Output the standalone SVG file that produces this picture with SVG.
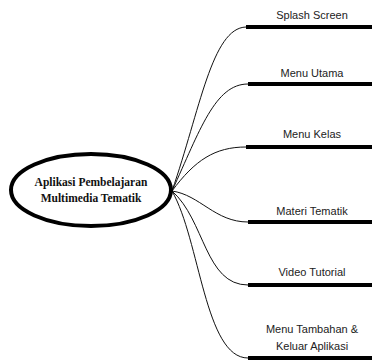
<svg xmlns="http://www.w3.org/2000/svg" width="372" height="364" viewBox="0 0 372 364">
<style>
.bar{stroke:#000;stroke-width:4;fill:none}
.lbl{font-family:"Liberation Sans",Arial,sans-serif;font-size:11px;fill:#222;text-anchor:middle}
.ctr{font-family:"Liberation Serif","Times New Roman",serif;font-size:11.5px;font-weight:bold;fill:#111;text-anchor:middle}
.conn{stroke:#111;stroke-width:1;fill:none}
</style>
<rect width="372" height="364" fill="#fff"/>
<g id="connectors">
<path class="conn" d="M172,191 C200,110 212,28 246,27"/>
<path class="conn" d="M172,191 C200,130 215,84 248,84"/>
<path class="conn" d="M172,191 C195,160 215,147 246,147"/>
<path class="conn" d="M172,191 C200,195 215,222 248,222"/>
<path class="conn" d="M172,191 C205,220 205,285 248,285"/>
<path class="conn" d="M172,191 C200,240 205,358 248,358"/>
</g>
<g id="root">
<ellipse cx="91" cy="190" rx="80" ry="36" fill="#fff" stroke="#000" stroke-width="4"/>
<text class="ctr" x="91" y="186">Aplikasi Pembelajaran</text>
<text class="ctr" x="91" y="202">Multimedia Tematik</text>
</g>
<g id="n1"><line class="bar" x1="246" y1="27" x2="372" y2="27"/><text class="lbl" x="312" y="19">Splash Screen</text></g>
<g id="n2"><line class="bar" x1="248" y1="84" x2="372" y2="84"/><text class="lbl" x="312" y="77">Menu Utama</text></g>
<g id="n3"><line class="bar" x1="246" y1="147" x2="372" y2="147"/><text class="lbl" x="312" y="138">Menu Kelas</text></g>
<g id="n4"><line class="bar" x1="248" y1="222" x2="372" y2="222"/><text class="lbl" x="312" y="215">Materi Tematik</text></g>
<g id="n5"><line class="bar" x1="248" y1="285" x2="372" y2="285"/><text class="lbl" x="312" y="276">Video Tutorial</text></g>
<g id="n6"><line class="bar" x1="248" y1="358" x2="372" y2="358"/><text class="lbl" x="312" y="333">Menu Tambahan &amp;</text><text class="lbl" x="312" y="350">Keluar Aplikasi</text></g>
</svg>
